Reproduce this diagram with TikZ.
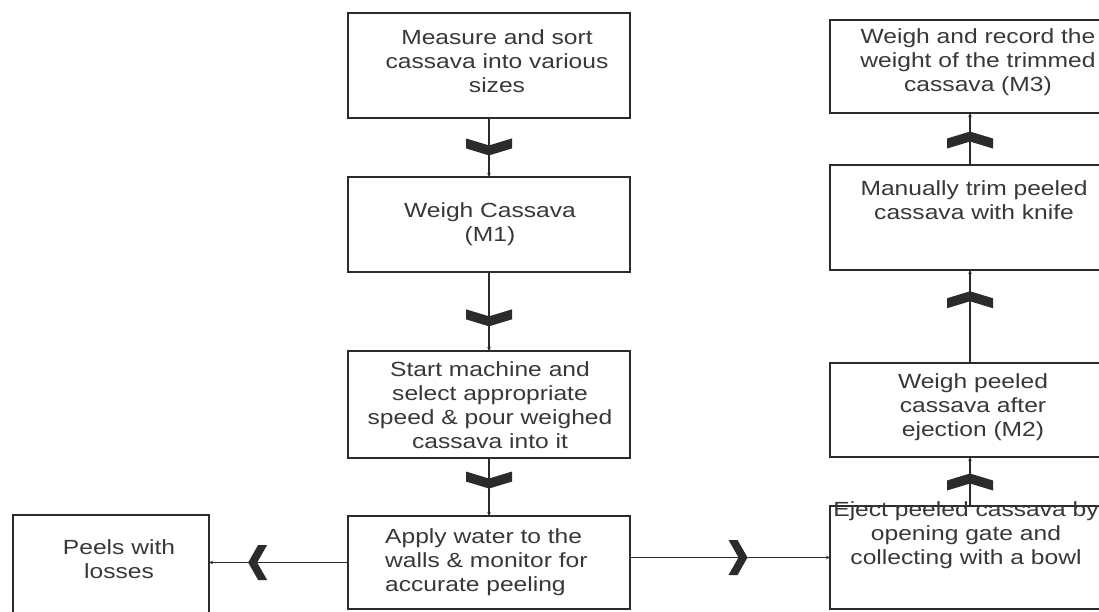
\documentclass[tikz,border=0pt]{standalone}
\usepackage{fontspec}
\setmainfont{Liberation Sans}[FakeStretch=1.2]
\usetikzlibrary{decorations.markings,arrows.meta}
\definecolor{ink}{HTML}{2B2B2B}
\definecolor{txt}{HTML}{383838}
\begin{document}
\begin{tikzpicture}[x=1pt,y=-1pt,
  box/.style={draw=ink,line width=1.4pt,rectangle,inner sep=0pt,outer sep=0pt},
  lbl/.style={text=txt,font=\fontsize{20.5}{24}\selectfont,align=center,inner sep=0pt},
  conn/.style={draw=ink,line width=1.1pt,-{Stealth[length=4pt,width=3.5pt]}},
  vchev/.style={postaction={decorate,decoration={markings,mark=at position #1 with {\fill[ink] (8.5pt,0pt) -- (1.5pt,23pt) -- (-8.5pt,23pt) -- (-1.5pt,0pt) -- (-8.5pt,-23pt) -- (1.5pt,-23pt) -- cycle;}}}},
  hchev/.style={postaction={decorate,decoration={markings,mark=at position #1 with {\fill[ink] (9.5pt,0pt) -- (-0.5pt,17.5pt) -- (-9.5pt,17.5pt) -- (0.5pt,0pt) -- (-9.5pt,-17.5pt) -- (-0.5pt,-17.5pt) -- cycle;}}}}
]
\clip (0,0) rectangle (1099,611);
\fill[white] (0,0) rectangle (1099,611);

% boxes
\node[box,minimum width=282pt,minimum height=105pt] (A) at (489,65.5) {};
\node[box,minimum width=282pt,minimum height=95pt] (B) at (489,224.5) {};
\node[box,minimum width=282pt,minimum height=107pt] (C) at (489,404.5) {};
\node[box,minimum width=282pt,minimum height=93pt] (D) at (489,562.5) {};
\node[box,minimum width=196pt,minimum height=100pt] (P) at (111,565) {};
\node[box,minimum width=280pt,minimum height=103pt] (E) at (970,557.5) {};
\node[box,minimum width=280pt,minimum height=94pt] (W) at (970,410) {};
\node[box,minimum width=280pt,minimum height=105pt] (T) at (970,217.5) {};
\node[box,minimum width=280pt,minimum height=93pt] (R) at (970,66.5) {};

% texts
\node[lbl] (tA) at (497,61) {Measure and sort\\cassava into various\\sizes};
\node[lbl] (tB) at (490,224) {Weigh Cassava\\(M1)};
\node[lbl] (tC) at (490,405) {Start machine and\\select appropriate\\speed \& pour weighed\\cassava into it};
\node[lbl,align=left,anchor=west] (tD) at (385,562) {Apply water to the\\walls \& monitor for\\accurate peeling};
\node[lbl] (tP) at (119,559) {Peels with\\losses};
\node[lbl] (tE) at (966,535) {Eject peeled cassava by\\opening gate and\\collecting with a bowl};
\node[lbl] (tW) at (973,407) {Weigh peeled\\cassava after\\ejection (M2)};
\node[lbl] (tT) at (974,200) {Manually trim peeled\\cassava with knife};
\node[lbl] (tR) at (978,62) {Weigh and record the\\weight of the trimmed\\cassava (M3)};

% connectors
\draw[conn,vchev=0.49] (A) -- (B);
\draw[conn,vchev=0.58] (B) -- (C);
\draw[conn,vchev=0.38] (C) -- (D);
\draw[conn,hchev=0.65] (D.west) -- (D.west -| P.east);
\draw[conn,hchev=0.54] (E.west -| D.east) -- (E.west);
\draw[conn,vchev=0.49] (E) -- (W);
\draw[conn,vchev=0.68] (W) -- (T);
\draw[conn,vchev=0.48] (T) -- (R);
\end{tikzpicture}
\end{document}
